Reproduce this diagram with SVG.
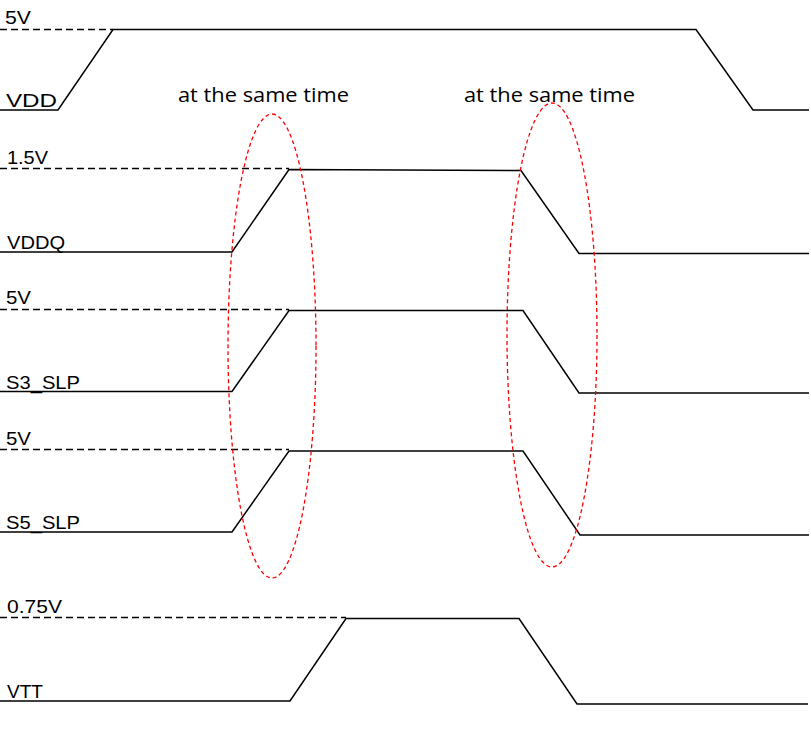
<svg xmlns="http://www.w3.org/2000/svg" width="811" height="733" viewBox="0 0 811 733">
<style>
.bg{fill:#ffffff}
.sig{fill:none;stroke:#000;stroke-width:1.5;stroke-linejoin:miter}
.ref{fill:none;stroke:#000;stroke-width:1.3;stroke-dasharray:7 4}
.oval{fill:none;stroke:#ff0000;stroke-width:1.3;stroke-dasharray:4 3}
.lbl{font-family:"Liberation Sans",Arial,sans-serif;font-size:18px;fill:#000}
.note{font-family:"Open Sans","Noto Sans",sans-serif;font-size:20px;fill:#000}
</style>
<rect class="bg" x="0" y="0" width="811" height="733"/>
<g id="VDD">
<line class="ref" x1="0" y1="29.5" x2="113" y2="29.5"/>
<polyline class="sig" points="0,110 58,110 113,29.5 696,29.5 753,110 809,110"/>
<text class="lbl" x="5" y="24" textLength="26" lengthAdjust="spacingAndGlyphs">5V</text>
<text class="lbl" x="6" y="107" textLength="51" lengthAdjust="spacingAndGlyphs">VDD</text>
</g>
<g id="VDDQ">
<line class="ref" x1="0" y1="168.5" x2="289" y2="168.5"/>
<polyline class="sig" points="0,252 232,252 289,169.5 521,170.5 579,253.5 809,253.5"/>
<text class="lbl" x="7" y="164" textLength="41" lengthAdjust="spacingAndGlyphs">1.5V</text>
<text class="lbl" x="7" y="249" textLength="58" lengthAdjust="spacingAndGlyphs">VDDQ</text>
</g>
<g id="S3_SLP">
<line class="ref" x1="0" y1="309.5" x2="289" y2="309.5"/>
<polyline class="sig" points="0,391.5 232,391.5 289,310.5 523,310.5 579,393 809,393"/>
<text class="lbl" x="6" y="304" textLength="25" lengthAdjust="spacingAndGlyphs">5V</text>
<text class="lbl" x="6" y="389" textLength="74" lengthAdjust="spacingAndGlyphs">S3_SLP</text>
</g>
<g id="S5_SLP">
<line class="ref" x1="0" y1="449.5" x2="289" y2="449.5"/>
<polyline class="sig" points="0,532 232,532 289,451 523,451 580,535 809,535"/>
<text class="lbl" x="6" y="445" textLength="25" lengthAdjust="spacingAndGlyphs">5V</text>
<text class="lbl" x="6" y="529" textLength="74" lengthAdjust="spacingAndGlyphs">S5_SLP</text>
</g>
<g id="VTT">
<line class="ref" x1="0" y1="617.5" x2="346" y2="617.5"/>
<polyline class="sig" points="0,701 290,701 346,618.5 519,618.5 577,704 808,704"/>
<text class="lbl" x="7" y="613" textLength="55" lengthAdjust="spacingAndGlyphs">0.75V</text>
<text class="lbl" x="7" y="698" textLength="36" lengthAdjust="spacingAndGlyphs">VTT</text>
</g>
<g id="same-time-left">
<ellipse class="oval" cx="272" cy="346" rx="44" ry="232"/>
<text class="note" x="178" y="102" textLength="171" lengthAdjust="spacingAndGlyphs">at the same time</text>
</g>
<g id="same-time-right">
<ellipse class="oval" cx="552" cy="335" rx="45" ry="232"/>
<text class="note" x="464" y="102" textLength="171" lengthAdjust="spacingAndGlyphs">at the same time</text>
</g>
</svg>
